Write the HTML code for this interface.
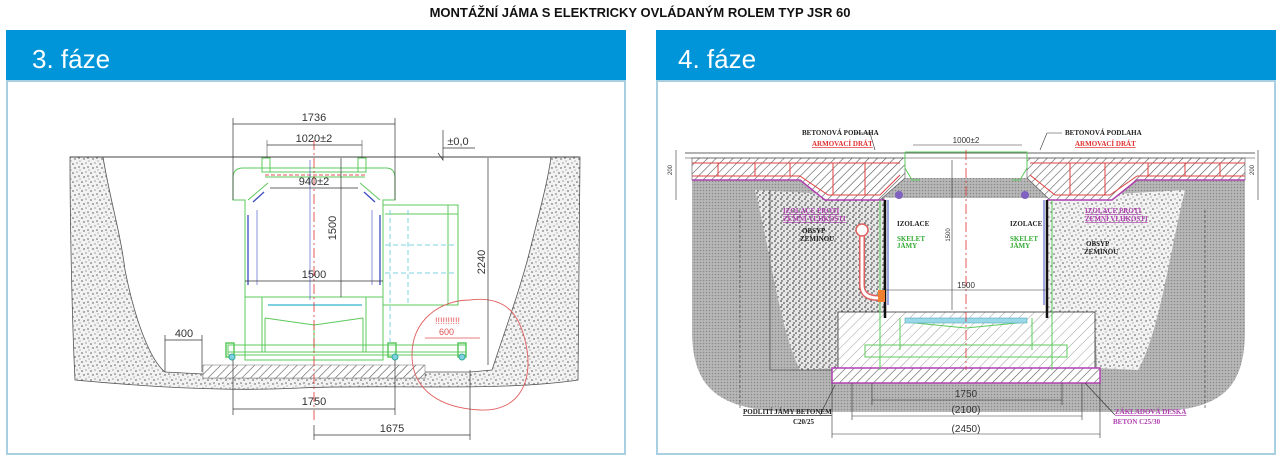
<!DOCTYPE html>
<html><head><meta charset="utf-8"><style>
html,body{margin:0;padding:0;background:#fff;}
body{width:1280px;height:463px;overflow:hidden;position:relative;font-family:"Liberation Sans",sans-serif;}
</style></head><body>
<svg width="1280" height="463" viewBox="0 0 1280 463" xmlns="http://www.w3.org/2000/svg" font-family="Liberation Sans, sans-serif">
<defs>
<pattern id="stip" width="9" height="9" patternUnits="userSpaceOnUse">
<rect width="9" height="9" fill="#f2f2f2"/>
<circle cx="1" cy="2" r="0.8" fill="#555"/><circle cx="5" cy="1" r="0.6" fill="#666"/>
<circle cx="3" cy="6" r="0.7" fill="#444"/><circle cx="7" cy="5" r="0.8" fill="#666"/><circle cx="8" cy="8" r="0.5" fill="#555"/>
</pattern>
<pattern id="stipd" width="6" height="6" patternUnits="userSpaceOnUse">
<rect width="6" height="6" fill="#e6e6e6"/>
<circle cx="1" cy="1" r="0.8" fill="#222"/><circle cx="4" cy="3" r="0.8" fill="#333"/><circle cx="2" cy="5" r="0.7" fill="#222"/>
</pattern>
<pattern id="dark" width="3" height="3" patternUnits="userSpaceOnUse">
<rect width="3" height="3" fill="#b8b8b8"/><circle cx="1.5" cy="1.5" r="0.8" fill="#8a8a8a"/>
</pattern>
<pattern id="hatch" width="6" height="6" patternUnits="userSpaceOnUse" patternTransform="rotate(45)">
<rect width="6" height="6" fill="#fff"/><line x1="0" y1="0" x2="0" y2="6" stroke="#555" stroke-width="1.2"/>
</pattern>
<pattern id="hatchl" width="7" height="7" patternUnits="userSpaceOnUse" patternTransform="rotate(45)">
<rect width="7" height="7" fill="#fff"/><line x1="0" y1="0" x2="0" y2="7" stroke="#888" stroke-width="0.8"/>
</pattern>
</defs>

<text x="640" y="17" text-anchor="middle" font-size="13" font-weight="bold" fill="#111">MONTÁŽNÍ JÁMA S ELEKTRICKY OVLÁDANÝM ROLEM TYP JSR 60</text>

<rect x="6" y="30" width="620" height="51" fill="#0094d8"/>
<rect x="7" y="81" width="618" height="373" fill="#fff" stroke="#a9cfe3" stroke-width="2"/>
<text x="32" y="68" font-size="26" fill="#fff">3. fáze</text>
<rect x="656" y="30" width="620" height="51" fill="#0094d8"/>
<rect x="657" y="81" width="618" height="373" fill="#fff" stroke="#a9cfe3" stroke-width="2"/>
<text x="678" y="68" font-size="26" fill="#fff">4. fáze</text>

<!-- ===== LEFT DRAWING ===== -->
<path d="M70,157 L103,157 C110,200 120,230 125,270 C135,320 150,360 165,372 L203,374 L203,378 L425,378 L425,372 L470,372 L492,370 C505,330 520,290 530,250 C540,210 548,180 551,157 L580,157 L578,380 C500,392 380,384 300,388 C220,392 140,386 75,380 C72,320 70,220 70,157 Z" fill="url(#stip)" stroke="#555" stroke-width="0.8"/>
<line x1="70" y1="157" x2="580" y2="157" stroke="#444" stroke-width="1"/>
<rect x="203" y="365" width="222" height="13" fill="url(#hatch)" stroke="#888" stroke-width="0.6"/>
<g fill="none" stroke="#5cc85c" stroke-width="1">
<path d="M243,168 L386,168 Q395,168 395,178 L395,200 L383,200 L383,360 L245,360 L245,200 L233,200 L233,178 Q233,168 243,168 Z"/>
<rect x="262" y="158" width="8" height="14"/><rect x="358" y="158" width="8" height="14"/>
<line x1="265" y1="172" x2="365" y2="172"/><line x1="265" y1="177" x2="365" y2="177"/>
<line x1="268" y1="183" x2="248" y2="200"/><line x1="360" y1="183" x2="380" y2="200"/>
<line x1="245" y1="297" x2="383" y2="297"/>
<line x1="262" y1="297" x2="262" y2="352"/><line x1="366" y1="297" x2="366" y2="352"/>
<path d="M265,318 L314,325 L363,318"/>
<line x1="265" y1="318" x2="265" y2="352"/><line x1="363" y1="318" x2="363" y2="352"/><line x1="314" y1="325" x2="314" y2="352"/>
<rect x="383" y="205" width="75" height="100"/>
<line x1="385" y1="214" x2="458" y2="214"/><line x1="448" y1="205" x2="448" y2="305"/>
<rect x="228" y="345" width="238" height="10"/>
<line x1="228" y1="352" x2="466" y2="352"/>
<rect x="226" y="343" width="8" height="14" stroke-width="1.5"/><rect x="388" y="343" width="8" height="14" stroke-width="1.5"/><rect x="458" y="343" width="8" height="14" stroke-width="1.5"/>
</g>
<g stroke="#3b4cc0" stroke-width="1.3" fill="none">
<line x1="248" y1="215" x2="248" y2="285"/><line x1="380" y1="215" x2="380" y2="285"/>
<line x1="253" y1="202" x2="264" y2="192"/><line x1="375" y1="202" x2="364" y2="192"/>
<line x1="257" y1="210" x2="257" y2="285" stroke-width="0.6"/><line x1="372" y1="210" x2="372" y2="285" stroke-width="0.6"/>
</g>
<g stroke="#7fd0e0" stroke-width="1" stroke-dasharray="5,3" fill="none">
<line x1="385" y1="245" x2="455" y2="245"/><line x1="385" y1="273" x2="455" y2="273"/>
<line x1="408" y1="210" x2="408" y2="305"/><line x1="390" y1="210" x2="390" y2="345"/>
<line x1="268" y1="305" x2="362" y2="305" stroke-dasharray="none" stroke-width="2"/>
</g>
<line x1="265" y1="175" x2="365" y2="175" stroke="#e05050" stroke-width="1" stroke-dasharray="4,2"/>
<line x1="314" y1="140" x2="314" y2="420" stroke="#e03030" stroke-width="0.8" stroke-dasharray="10,3,2,3"/>
<line x1="310" y1="160" x2="310" y2="300" stroke="#3b4cc0" stroke-width="0.6"/>
<circle cx="232" cy="357" r="3" fill="#7fd0e0" stroke="#3a9"/><circle cx="395" cy="357" r="3" fill="#7fd0e0" stroke="#3a9"/><circle cx="462" cy="357" r="3" fill="#7fd0e0" stroke="#3a9"/>
<path d="M470,300 C510,295 520,320 525,340 C535,380 520,412 480,410 C440,408 412,390 412,355 C412,320 440,300 470,300 Z" fill="none" stroke="#e06060" stroke-width="0.9"/>
<text x="435" y="324" font-size="9" fill="#e05050">!!!!!!!!!!</text>
<text x="439" y="335" font-size="9" fill="#e05050">600</text>
<line x1="425" y1="338" x2="480" y2="338" stroke="#e05050" stroke-width="0.8"/>
<g stroke="#333" stroke-width="0.7" fill="none">
<line x1="233" y1="124" x2="395" y2="124"/><line x1="233" y1="118" x2="233" y2="200"/><line x1="395" y1="118" x2="395" y2="200"/>
<line x1="267" y1="145" x2="362" y2="145"/><line x1="267" y1="140" x2="267" y2="158" stroke-width="0.5"/><line x1="362" y1="140" x2="362" y2="158" stroke-width="0.5"/>
<line x1="270" y1="188" x2="358" y2="188"/>
<line x1="341" y1="158" x2="341" y2="297"/>
<line x1="245" y1="281" x2="383" y2="281"/>
<line x1="488" y1="158" x2="488" y2="365"/>
<line x1="443" y1="153" x2="443" y2="130"/><path d="M438,153 L443,160 L443,153"/><line x1="443" y1="148" x2="475" y2="148"/>
<line x1="165" y1="340" x2="202" y2="340"/><line x1="165" y1="335" x2="165" y2="372"/><line x1="202" y1="335" x2="202" y2="372"/>
<line x1="233" y1="409" x2="395" y2="409"/><line x1="233" y1="360" x2="233" y2="415"/><line x1="395" y1="360" x2="395" y2="415"/>
<line x1="314" y1="435" x2="470" y2="435"/><line x1="314" y1="425" x2="314" y2="440"/><line x1="470" y1="370" x2="470" y2="440"/>
</g>
<g font-size="11" fill="#333" text-anchor="middle">
<text x="314" y="121">1736</text>
<text x="314" y="142">1020±2</text>
<text x="314" y="185">940±2</text>
<text x="314" y="278">1500</text>
<text x="458" y="145">±0,0</text>
<text x="184" y="337">400</text>
<text x="314" y="405">1750</text>
<text x="392" y="432">1675</text>
<text transform="translate(336,228) rotate(-90)">1500</text>
<text transform="translate(485,262) rotate(-90)">2240</text>
</g>

<!-- ===== RIGHT DRAWING ===== -->
<path d="M692,178 L1245,178 L1245,330 C1245,395 1215,410 1150,412 L790,412 C720,410 692,390 692,330 Z" fill="url(#dark)"/>
<path d="M755,190 L900,198 L885,320 L840,320 L838,368 L800,370 C780,330 772,260 755,190 Z" fill="url(#stipd)"/>
<path d="M1185,190 L1045,198 L1047,320 L1095,320 L1097,368 L1138,370 C1160,330 1168,260 1185,190 Z" fill="url(#stip)"/>
<rect x="885" y="198" width="162" height="118" fill="#fff"/>
<rect x="838" y="312" width="257" height="56" fill="url(#hatchl)" stroke="#333" stroke-width="0.8"/>
<rect x="832" y="368" width="268" height="15" fill="url(#hatch)" stroke="#b040b0" stroke-width="1.5"/>
<path d="M692,158 L905,158 L905,178 L880,200 L825,200 L800,180 L692,180 Z" fill="url(#hatch)" stroke="#555" stroke-width="0.6"/>
<path d="M1027,158 L1245,158 L1245,180 L1137,180 L1112,200 L1050,200 L1027,178 Z" fill="url(#hatch)" stroke="#555" stroke-width="0.6"/>
<g stroke="#e04040" stroke-width="1" fill="none">
<line x1="692" y1="163" x2="900" y2="163"/><line x1="692" y1="176" x2="800" y2="176"/>
<path d="M800,176 L828,195 L880,195 L900,175"/>
<line x1="1030" y1="163" x2="1245" y2="163"/><line x1="1137" y1="176" x2="1245" y2="176"/>
<path d="M1137,176 L1110,195 L1055,195 L1030,175"/>
<line x1="718" y1="163" x2="718" y2="176"/><line x1="755" y1="163" x2="755" y2="176"/><line x1="790" y1="163" x2="790" y2="176"/><line x1="833" y1="163" x2="833" y2="195"/><line x1="865" y1="163" x2="865" y2="195"/>
<line x1="1070" y1="163" x2="1070" y2="195"/><line x1="1105" y1="163" x2="1105" y2="195"/><line x1="1148" y1="163" x2="1148" y2="176"/><line x1="1185" y1="163" x2="1185" y2="176"/><line x1="1220" y1="163" x2="1220" y2="176"/>
</g>
<path d="M692,180 L800,180 L825,200 L885,200" stroke="#b040b0" stroke-width="1.5" fill="none"/>
<path d="M1245,180 L1137,180 L1112,200 L1047,200" stroke="#b040b0" stroke-width="1.5" fill="none"/>
<line x1="685" y1="153" x2="1255" y2="153" stroke="#333" stroke-width="0.8"/>
<line x1="685" y1="158" x2="1255" y2="158" stroke="#333" stroke-width="0.6"/>
<g stroke="#5cc85c" stroke-width="1" fill="none">
<path d="M905,152 L1027,152 L1027,168 L1020,180 L1012,180 M905,152 L905,168 L912,180 L920,180"/>
<line x1="880" y1="200" x2="880" y2="370"/><line x1="1052" y1="200" x2="1052" y2="370"/>
<rect x="865" y="345" width="202" height="12"/>
<line x1="900" y1="318" x2="900" y2="350"/><line x1="1032" y1="318" x2="1032" y2="350"/>
<path d="M905,322 L966,328 L1027,322"/>
</g>
<line x1="885" y1="200" x2="885" y2="318" stroke="#111" stroke-width="2.5"/>
<line x1="1047" y1="200" x2="1047" y2="318" stroke="#111" stroke-width="2.5"/>
<line x1="888" y1="200" x2="888" y2="305" stroke="#3b4cc0" stroke-width="1"/>
<line x1="1044" y1="200" x2="1044" y2="305" stroke="#3b4cc0" stroke-width="1"/>
<rect x="905" y="318" width="122" height="5" fill="#9ad8e8" stroke="#5ab" stroke-width="0.6"/>
<path d="M862,233 L862,285 Q862,298 878,298" stroke="#e06060" stroke-width="6" fill="none"/>
<path d="M862,233 L862,285 Q862,298 878,298" stroke="#fff" stroke-width="3" fill="none"/>
<circle cx="862" cy="230" r="6" fill="#fff" stroke="#e06060" stroke-width="1.5"/>
<rect x="878" y="290" width="7" height="12" fill="#f08030"/>
<circle cx="899" cy="195" r="4" fill="#8060c0"/><circle cx="1025" cy="195" r="4" fill="#8060c0"/>
<line x1="966" y1="150" x2="966" y2="370" stroke="#e03030" stroke-width="0.8" stroke-dasharray="10,3,2,3"/>
<g stroke="#333" stroke-width="0.6" fill="none">
<line x1="913" y1="145" x2="1022" y2="145"/>
<line x1="952" y1="160" x2="952" y2="310"/>
<line x1="885" y1="290" x2="1047" y2="290"/>
<line x1="872" y1="400" x2="1062" y2="400"/><line x1="872" y1="383" x2="872" y2="405"/><line x1="1062" y1="383" x2="1062" y2="405"/>
<line x1="852" y1="416" x2="1082" y2="416"/><line x1="852" y1="383" x2="852" y2="420"/><line x1="1082" y1="383" x2="1082" y2="420"/>
<line x1="832" y1="434" x2="1100" y2="434"/><line x1="832" y1="383" x2="832" y2="438"/><line x1="1100" y1="383" x2="1100" y2="438"/>
<line x1="676" y1="150" x2="676" y2="200"/><line x1="1258" y1="150" x2="1258" y2="200"/>
<line x1="740" y1="210" x2="740" y2="410" stroke-dasharray="3,2"/><line x1="1205" y1="210" x2="1205" y2="410" stroke-dasharray="3,2"/>
<line x1="770" y1="190" x2="770" y2="370"/><line x1="770" y1="370" x2="832" y2="370"/>
<line x1="820" y1="415" x2="835" y2="385"/><line x1="1115" y1="415" x2="1085" y2="383"/>
<path d="M855,133 L870,133 L875,150"/><path d="M1062,133 L1047,133 L1040,150"/>
</g>
<g font-size="7" font-family="Liberation Serif, serif" font-weight="bold">
<text x="802" y="135" fill="#222">BETONOVÁ PODLAHA</text>
<text x="812" y="146" fill="#e03030" text-decoration="underline">ARMOVACÍ DRÁT</text>
<text x="1065" y="135" fill="#222">BETONOVÁ PODLAHA</text>
<text x="1075" y="146" fill="#e03030" text-decoration="underline">ARMOVACÍ DRÁT</text>
<text x="783" y="213" fill="#b040b0" text-decoration="underline">IZOLACE PROTI</text>
<text x="783" y="221" fill="#b040b0" text-decoration="underline">ZEMNÍ VLHKOSTI</text>
<text x="1085" y="213" fill="#b040b0" text-decoration="underline">IZOLACE PROTI</text>
<text x="1085" y="221" fill="#b040b0" text-decoration="underline">ZEMNÍ VLHKOSTI</text>
<text x="802" y="233" fill="#222">OBSYP</text><text x="800" y="241" fill="#222">ZEMINOU</text>
<text x="1086" y="246" fill="#222">OBSYP</text><text x="1084" y="254" fill="#222">ZEMINOU</text>
<text x="897" y="226" fill="#222">IZOLACE</text><text x="1010" y="226" fill="#222">IZOLACE</text>
<text x="897" y="241" fill="#3a3">SKELET</text><text x="897" y="248" fill="#3a3">JÁMY</text>
<text x="1010" y="241" fill="#3a3">SKELET</text><text x="1010" y="248" fill="#3a3">JÁMY</text>
<text x="743" y="414" fill="#222" text-decoration="underline">PODLITÍ JÁMY BETONEM</text>
<text x="793" y="424" fill="#222">C20/25</text>
<text x="1115" y="414" fill="#b040b0" text-decoration="underline">ZÁKLADOVÁ DESKA</text>
<text x="1113" y="424" fill="#b040b0">BETON C25/30</text>
</g>
<g font-size="8" fill="#333" text-anchor="middle">
<text x="966" y="143">1000±2</text>
<text x="966" y="288">1500</text>
<text x="966" y="397" font-size="10">1750</text>
<text x="966" y="413" font-size="10">(2100)</text>
<text x="966" y="432" font-size="10">(2450)</text>
<text transform="translate(950,235) rotate(-90)" font-size="6">1500</text>
<text transform="translate(672,170) rotate(-90)" font-size="6">200</text>
<text transform="translate(1254,170) rotate(-90)" font-size="6">200</text>
</g>
</svg>
</body></html>
